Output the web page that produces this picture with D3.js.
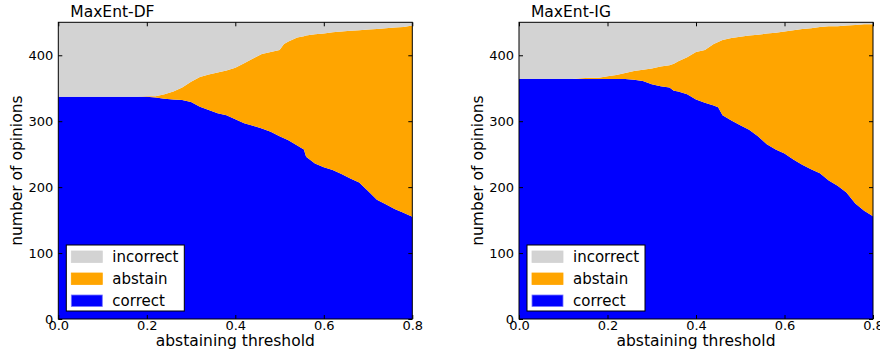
<!DOCTYPE html>
<html>
<head>
<meta charset="utf-8">
<script src="https://cdn.jsdelivr.net/npm/d3@7"></script>
<style>
  body { margin: 0; background: #fff; }
  svg { display: block; font-family: 'DejaVu Sans', sans-serif; }
</style>
</head>
<body>
<svg width="880" height="353"></svg>
<script>
// values (number of opinions per abstaining threshold)
const keys = ['correct', 'abstain', 'incorrect'];
const legendKeys = ['incorrect', 'abstain', 'correct'];
const xTicks = [0, 0.2, 0.4, 0.6, 0.8];
const yTicks = [0, 100, 200, 300, 400];

const thresholdsDF = [0, 0.02, 0.04, 0.06, 0.08, 0.10, 0.12, 0.14, 0.16, 0.18, 0.20, 0.22, 0.24, 0.26, 0.28,
  0.30, 0.32, 0.34, 0.36, 0.38, 0.40, 0.42, 0.44, 0.46, 0.48, 0.50, 0.51, 0.52, 0.54, 0.555, 0.56, 0.58,
  0.60, 0.62, 0.64, 0.66, 0.68, 0.70, 0.72, 0.74, 0.76, 0.78, 0.80];
const correctDF = [337, 337, 337, 337, 337, 337, 337, 337, 337, 337, 337, 336, 334, 333, 332,
  329, 322, 317, 312, 309, 303, 297, 293, 289, 284, 277, 274, 271, 263, 257, 246, 236,
  230, 226, 220, 213, 207, 194, 181, 174, 167, 161, 155];
const abstainDF = [0, 0, 0, 0, 0, 0, 0, 0, 0, 0, 1, 2, 7, 12, 19,
  31, 45, 54, 62, 68, 78, 91, 102, 113, 121, 131, 143, 150, 164, 172, 184, 196,
  203, 209, 216, 224, 231, 245, 259, 267, 275, 282, 290];
const incorrectDF = [113, 113, 113, 113, 113, 113, 113, 113, 113, 113, 112, 112, 109, 105, 99,
  90, 83, 79, 76, 73, 69, 62, 55, 48, 45, 42, 33, 29, 23, 21, 20, 18,
  17, 15, 14, 13, 12, 11, 10, 9, 8, 7, 5];

const thresholdsIG = [0, 0.02, 0.04, 0.06, 0.08, 0.10, 0.12, 0.14, 0.16, 0.18, 0.20, 0.22, 0.24, 0.26, 0.28,
  0.30, 0.32, 0.34, 0.35, 0.36, 0.38, 0.40, 0.42, 0.44, 0.45, 0.46, 0.48, 0.50, 0.52, 0.54, 0.56, 0.58,
  0.60, 0.62, 0.64, 0.66, 0.68, 0.70, 0.72, 0.74, 0.76, 0.78, 0.80];
const correctIG = [364, 364, 364, 364, 364, 364, 364, 364, 364, 364, 364, 364, 364, 363, 361,
  356, 353, 351, 346, 345, 341, 333, 328, 324, 321, 309, 301, 294, 287, 277, 265, 257,
  251, 242, 234, 227, 221, 210, 202, 192, 175, 164, 156];
const abstainIG = [0, 0, 0, 0, 0, 0, 0, 1, 2, 2, 4, 6, 9, 13, 17,
  24, 30, 34, 41, 46, 56, 72, 80, 93, 99, 114, 125, 134, 143, 154, 168, 177,
  185, 196, 206, 214, 222, 234, 242, 253, 271, 283, 291];
const incorrectIG = [86, 86, 86, 86, 86, 86, 86, 85, 84, 84, 82, 80, 77, 74, 72,
  70, 67, 65, 63, 59, 53, 45, 42, 33, 30, 27, 24, 22, 20, 19, 17, 16,
  14, 12, 10, 9, 7, 6, 6, 5, 4, 3, 3];

const svg = d3.select('svg');
const colourScale = d3.scaleOrdinal()
  .domain(keys)
  .range(['#0000ff', '#ffa500', '#d3d3d3']);

const plotW = 354;
const plotH = 296.7;

const stackPanel = (selection, args) => {
  const { title, thresholds, correct, abstain, incorrect } = args;
  const x = d3.scaleLinear().domain([0, 0.8]).range([0, plotW]);
  const y = d3.scaleLinear().domain([0, 450]).range([plotH, 0]);

  const rows = thresholds.map((t, i) => ({
    t, correct: correct[i], abstain: abstain[i], incorrect: incorrect[i]
  }));
  const series = d3.stack().keys(keys)(rows);
  const area = d3.area()
    .x(d => x(d.data.t))
    .y0(d => y(d[0]))
    .y1(d => y(d[1]));

  selection.selectAll('.layer').data(series)
    .enter().append('path')
      .attr('class', 'layer')
      .attr('d', area)
      .attr('fill', d => colourScale(d.key));

  //ticks point inward on all four sides
  const bottom = selection.append('g').attr('transform', `translate(0,${plotH})`)
    .call(d3.axisBottom(x).tickValues(xTicks).tickFormat(d3.format('.1f'))
      .tickSizeInner(-4).tickSizeOuter(0).tickPadding(2));
  const left = selection.append('g')
    .call(d3.axisLeft(y).tickValues(yTicks).tickSizeInner(-4).tickSizeOuter(0).tickPadding(5));
  const top = selection.append('g')
    .call(d3.axisTop(x).tickValues(xTicks).tickFormat('').tickSizeInner(-4).tickSizeOuter(0));
  const right = selection.append('g').attr('transform', `translate(${plotW},0)`)
    .call(d3.axisRight(y).tickValues(yTicks).tickFormat('').tickSizeInner(-4).tickSizeOuter(0));
  [bottom, left, top, right].forEach(g => {
    g.select('.domain').remove();
    g.selectAll('line').attr('stroke', '#000');
    g.selectAll('text').attr('fill', '#000').style('font-size', '13px').style('font-family', 'DejaVu Sans');
  });

  selection.append('rect')
    .attr('width', plotW).attr('height', plotH)
    .attr('fill', 'none').attr('stroke', '#000').attr('stroke-width', 1);

  selection.append('text')
    .attr('x', 12).attr('y', -5.3)
    .style('font-size', '15.5px')
    .text(title);

  selection.append('text')
    .attr('x', plotW / 2).attr('y', plotH + 27.5)
    .attr('text-anchor', 'middle')
    .style('font-size', '15.5px')
    .text('abstaining threshold');

  selection.append('text')
    .attr('transform', `translate(-36,${plotH / 2}) rotate(-90)`)
    .attr('text-anchor', 'middle')
    .style('font-size', '15.5px')
    .text('number of opinions');

  //legend box in the lower left corner
  const legend = selection.append('g').attr('transform', `translate(8,${plotH - 74})`);
  legend.append('rect')
    .attr('width', 118).attr('height', 66)
    .attr('fill', '#fff').attr('stroke', '#000').attr('stroke-width', 1);
  const items = legend.selectAll('.item').data(legendKeys)
    .enter().append('g')
      .attr('class', 'item')
      .attr('transform', (d, i) => `translate(0,${i * 22})`);
  items.append('rect')
    .attr('x', 5).attr('y', 6).attr('width', 31).attr('height', 11.5)
    .attr('fill', colourScale)
    .attr('stroke', d => d === 'correct' ? '#7777ff' : colourScale(d))
    .attr('stroke-width', 0.8);
  items.append('text')
    .attr('x', 46).attr('y', 17)
    .style('font-size', '15px')
    .text(d => d);
};

svg.append('g').attr('transform', 'translate(58.3,22.3)')
  .call(stackPanel, {
    title: 'MaxEnt-DF',
    thresholds: thresholdsDF,
    correct: correctDF,
    abstain: abstainDF,
    incorrect: incorrectDF
  });

svg.append('g').attr('transform', 'translate(519,22.3)')
  .call(stackPanel, {
    title: 'MaxEnt-IG',
    thresholds: thresholdsIG,
    correct: correctIG,
    abstain: abstainIG,
    incorrect: incorrectIG
  });
</script>
</body>
</html>
